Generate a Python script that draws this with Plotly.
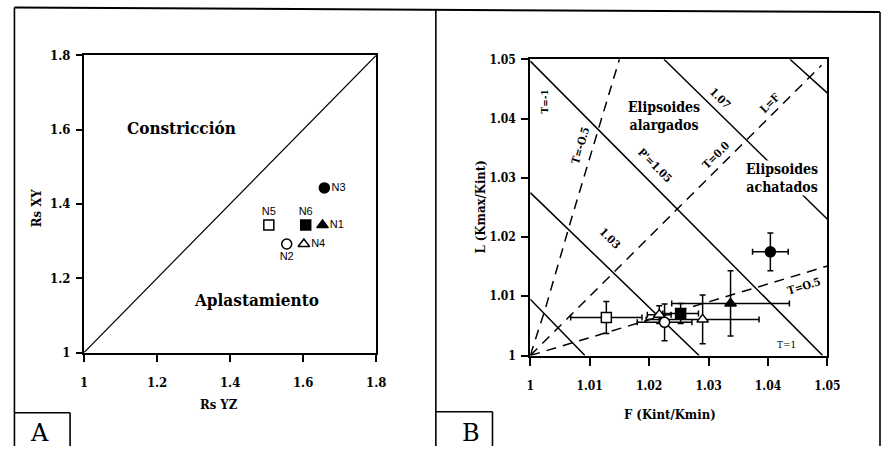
import plotly.graph_objects as go

W, H = 893, 454

# ---------------- Panel A data ----------------
a_names = ["N1", "N2", "N3", "N4", "N5", "N6"]
a_rs_yz = [1.653, 1.555, 1.658, 1.602, 1.506, 1.607]
a_rs_xy = [1.343, 1.292, 1.443, 1.292, 1.343, 1.343]
a_symbols = ["triangle-up", "circle", "circle", "triangle-up", "square", "square"]
a_fill = ["black", "white", "black", "white", "white", "black"]
a_textpos = ["middle right", "bottom center", "middle right", "middle right", "top center", "top center"]
a_ticks = [1, 1.2, 1.4, 1.6, 1.8]
a_ticktext = ["1", "1.2", "1.4", "1.6", "1.8"]
a_diag = [1.0, 1.8]

# ---------------- Panel B data ----------------
b_F = [1.0128, 1.0217, 1.0226, 1.0253, 1.0290, 1.0337, 1.0404]
b_L = [1.0064, 1.0069, 1.0056, 1.0071, 1.0061, 1.0088, 1.0175]
b_F_err = [0.0060, 0.0020, 0.0046, 0.0030, 0.0095, 0.0099, 0.0030]
b_L_err = [0.0027, 0.0015, 0.0031, 0.0017, 0.0041, 0.0055, 0.0032]
b_symbols = ["square", "triangle-up", "circle", "square", "triangle-up", "triangle-up", "circle"]
b_fill = ["white", "white", "white", "black", "white", "black", "black"]
b_ticks = [1, 1.01, 1.02, 1.03, 1.04, 1.05]
b_ticktext = ["1", "1.01", "1.02", "1.03", "1.04", "1.05"]

# P' iso-lines (solid)
p101_F, p101_L = [1.0, 1.0092], [1.0095, 1.0]
p103_F, p103_L = [1.0, 1.0284], [1.0275, 1.0]
p105_F, p105_L = [1.0, 1.0492], [1.0497, 1.0]
p107_F, p107_L = [1.0225, 1.05], [1.05, 1.023]
p109_F, p109_L = [1.0437, 1.05], [1.05, 1.0443]
# T lines (dashed)
t0_F, t0_L = [1.0, 1.049], [1.0, 1.049]
tm05_F, tm05_L = [1.0, 1.0025, 1.0069, 1.015], [1.0, 1.0078, 1.023, 1.05]
tp05_F, tp05_L = [1.0, 1.05], [1.0, 1.0151]

SERIF = "DejaVu Serif Condensed, DejaVu Serif"
SANS = "Liberation Sans"

fig = go.Figure()

# ---- Panel A ----
fig.add_trace(go.Scatter(x=a_diag, y=a_diag, mode="lines",
                         line=dict(color="black", width=1.2),
                         xaxis="x", yaxis="y", showlegend=False, hoverinfo="skip"))
fig.add_trace(go.Scatter(x=a_rs_yz, y=a_rs_xy, mode="markers+text", text=a_names,
                         textposition=a_textpos,
                         textfont=dict(family=SANS, size=11, color="black"),
                         marker=dict(symbol=a_symbols, color=a_fill, size=10,
                                     line=dict(color="black", width=1.5)),
                         xaxis="x", yaxis="y", showlegend=False))

# ---- Panel B ----
solid_lines = [(p101_F, p101_L), (p103_F, p103_L), (p105_F, p105_L),
               (p107_F, p107_L), (p109_F, p109_L)]
for fx, ly in solid_lines:
    fig.add_trace(go.Scatter(x=fx, y=ly, mode="lines", line=dict(color="black", width=1.5),
                             xaxis="x2", yaxis="y2", showlegend=False, hoverinfo="skip"))
dashed_lines = [(t0_F, t0_L), (tm05_F, tm05_L), (tp05_F, tp05_L)]
for fx, ly in dashed_lines:
    fig.add_trace(go.Scatter(x=fx, y=ly, mode="lines",
                             line=dict(color="black", width=1.5, dash="10px,7px"),
                             xaxis="x2", yaxis="y2", showlegend=False, hoverinfo="skip"))

fig.add_trace(go.Scatter(x=b_F, y=b_L, mode="markers",
                         error_x=dict(type="data", array=b_F_err, color="black", thickness=1.5, width=3),
                         error_y=dict(type="data", array=b_L_err, color="black", thickness=1.5, width=3),
                         marker=dict(symbol=b_symbols, color=b_fill, size=10,
                                     line=dict(color="black", width=1.5)),
                         xaxis="x2", yaxis="y2", showlegend=False))

# map target picture pixels to paper fractions (the photographed page is slightly
# inset/scaled: picture_x = 2.5 + 0.987*page_x, picture_y = 8.9 + 0.963*page_y)
def px2x(px):
    return min(max((px - 2.5) / 0.987, 0), W) / W

def py2y(py):
    return 1 - min(max((py - 8.9) / 0.963, 0), H) / H

axis_common = dict(showline=True, linecolor="black", linewidth=2, mirror=True,
                   ticks="outside", tickcolor="black", tickwidth=1.5,
                   showgrid=False, zeroline=False)

fig.update_layout(
    width=W, height=H, margin=dict(l=0, r=0, t=0, b=0),
    paper_bgcolor="white", plot_bgcolor="white",
    xaxis=dict(domain=[px2x(83), px2x(377)], range=[1, 1.8], anchor="y",
               tickvals=a_ticks, ticktext=a_ticktext, ticklen=7, ticklabelstandoff=10,
               tickfont=dict(family=SERIF, size=13, color="black", weight="bold"), **axis_common),
    yaxis=dict(domain=[py2y(353), py2y(57)], range=[1, 1.8], anchor="x",
               tickvals=a_ticks, ticktext=a_ticktext, ticklen=6, ticklabelstandoff=3,
               tickfont=dict(family=SERIF, size=13, color="black", weight="bold"), **axis_common),
    xaxis2=dict(domain=[px2x(532), px2x(831)], range=[1, 1.05], anchor="y2",
                tickvals=b_ticks, ticktext=b_ticktext, ticklen=8, ticklabelstandoff=10,
                tickfont=dict(family=SERIF, size=12, color="black", weight="bold"), **axis_common),
    yaxis2=dict(domain=[py2y(356), py2y(61)], range=[1, 1.05], anchor="x2",
                tickvals=b_ticks, ticktext=b_ticktext, ticklen=7, ticklabelstandoff=3,
                tickfont=dict(family=SERIF, size=12, color="black", weight="bold"), **axis_common),
)

ann = []
def A(text, x, y, xref="paper", yref="paper", size=12, angle=0, bg=None, family=SERIF, bold=True):
    d = dict(text=text, x=x, y=y, xref=xref, yref=yref,
             showarrow=False, textangle=angle, xanchor="center", yanchor="middle",
             font=dict(family=family, size=size, color="black",
                       weight="bold" if bold else "normal"))
    if bg:
        d["bgcolor"] = bg
        d["borderpad"] = 0
    ann.append(d)

# Panel A texts
A("Constricción", 1.267, 1.605, "x", "y", size=17)
A("Aplastamiento", 1.471, 1.14, "x", "y", size=17)
A("Rs YZ", px2x(219), py2y(405), size=13)
A("Rs XY", px2x(36), py2y(209), size=13, angle=-90)
A("A", px2x(38), py2y(433), size=24, family="DejaVu Serif", bold=False)

# Panel B texts
A("F (Kint/Kmin)", px2x(673), py2y(415), size=13)
A("L (Kmax/Kint)", px2x(482), py2y(208), size=13, angle=-90)
A("B", px2x(472), py2y(433), size=24, family="DejaVu Serif", bold=False)
A("Elipsoides<br>alargados", 1.02258, 1.0405, "x2", "y2", size=14)
A("Elipsoides<br>achatados", 1.0423, 1.03, "x2", "y2", size=14, bg="white")
A("T=-1", 1.00234, 1.0429, "x2", "y2", size=10, angle=-90)
A("T=-O.5", 1.00853, 1.0354, "x2", "y2", size=11, angle=-73, bg="white")
A("P'=1.05", 1.0209, 1.0320, "x2", "y2", size=11, angle=45)
A("1.03", 1.01338, 1.0198, "x2", "y2", size=11, angle=45)
A("1.07", 1.03194, 1.0434, "x2", "y2", size=11, angle=45)
A("T=0.0", 1.03127, 1.0337, "x2", "y2", size=11, angle=-45, bg="white")
A("L=F", 1.0403, 1.0425, "x2", "y2", size=11, angle=-45, bg="white")
A("T=O.5", 1.046, 1.0117, "x2", "y2", size=11, angle=-17)
A("T=1", 1.04314, 1.0019, "x2", "y2", size=10, bold=False)

fig.update_layout(annotations=ann)

# Figure frame lines (paper coordinates)
def L(x0, y0, x1, y1, w=1.6):
    fig.add_shape(type="line", xref="paper", yref="paper",
                  x0=px2x(x0), y0=py2y(y0), x1=px2x(x1), y1=py2y(y1),
                  line=dict(color="black", width=w))

L(13, 9.5, 886, 14, 2)
L(13, 9.5, 13, 454)
L(437, 11, 437, 454)
L(884, 14, 884, 454)
L(13, 413, 69, 413)
L(69, 413, 69, 454)
L(437, 412, 494, 412)
L(494, 412, 494, 454)

fig.write_html("out.html", config={"displayModeBar": False},
               post_script="document.body.style.margin='0';document.body.style.overflow='hidden';")
